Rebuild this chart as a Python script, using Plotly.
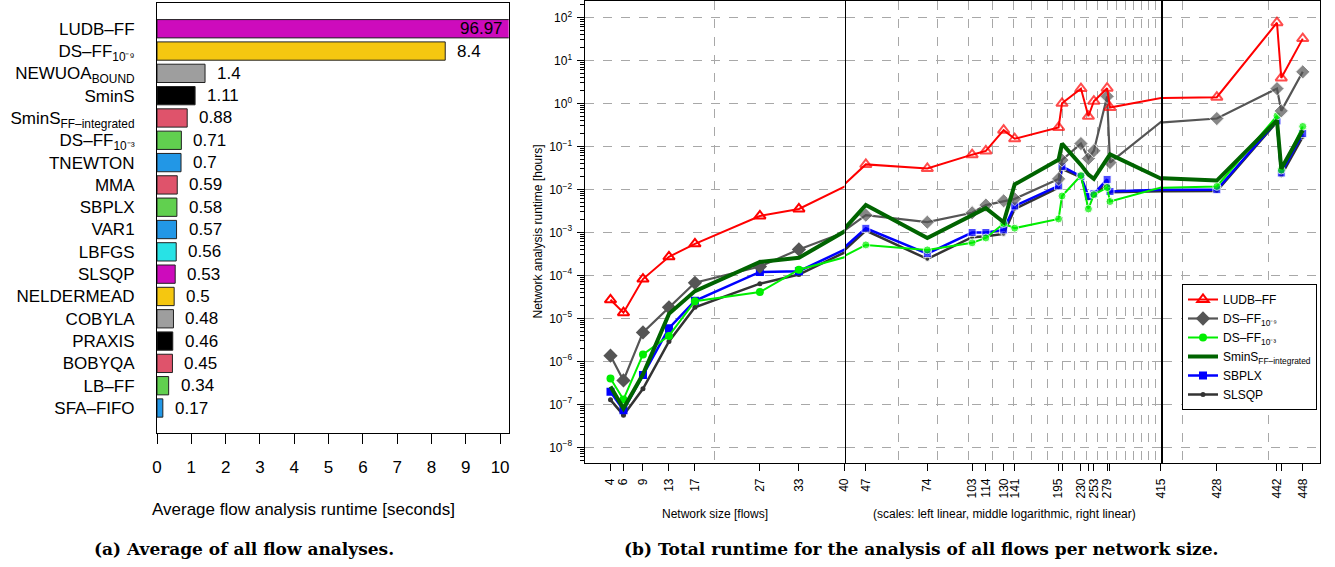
import math
import plotly.graph_objects as go

W, H = 1335, 567


def px(x):
    return x / W


def py(y):
    return 1 - y / H


# ---------------- (a) average flow analysis runtime [seconds] ----------------
methods = ["LUDB–FF", "DS–FF<sub>10⁻⁹</sub>", "NEWUOA<sub>BOUND</sub>", "SminS",
           "SminS<sub>FF–integrated</sub>", "DS–FF<sub>10⁻³</sub>", "TNEWTON", "MMA",
           "SBPLX", "VAR1", "LBFGS", "SLSQP", "NELDERMEAD", "COBYLA", "PRAXIS",
           "BOBYQA", "LB–FF", "SFA–FIFO"]
avg_runtime = [96.97, 8.4, 1.4, 1.11, 0.88, 0.71, 0.7, 0.59, 0.58, 0.57, 0.56,
               0.53, 0.5, 0.48, 0.46, 0.45, 0.34, 0.17]
bar_colors = ["#CD0BBC", "#F5C710", "#9E9E9E", "#000000", "#DF536B", "#61D04F",
              "#2297E6", "#DF536B", "#61D04F", "#2297E6", "#28E2E5", "#CD0BBC",
              "#F5C710", "#9E9E9E", "#000000", "#DF536B", "#61D04F", "#2297E6"]
bar_ticks = [0, 1, 2, 3, 4, 5, 6, 7, 8, 9, 10]

# ---------------- (b) total runtime per network size [hours] ----------------
sizes = [4, 6, 9, 13, 17, 27, 33, 47, 74, 103, 114, 130, 141, 195, 200, 230, 243,
         253, 279, 285, 428, 442, 443, 448]
size_labels = ["4", "6", "9", "13", "17", "27", "33", "47", "74", "103", "114", "130",
               "141", "195", "", "230", "", "253", "279", "", "428", "442", "", "448"]
ludb_ff = [2.7e-5, 1.35e-5, 8.2e-5, 2.7e-4, 5.4e-4, 2.4e-3, 3.5e-3, 3.8e-2, 3.05e-2,
           6.4e-2, 7.8e-2, 0.237, 0.15, 0.275, 1.0, 2.2, 0.5, 1.12, 2.25, 0.8, 1.39,
           75.0, 3.9, 32.0]
ds_ff_9 = [1.35e-6, 3.6e-7, 4.7e-6, 1.8e-5, 6.7e-5, 1.6e-4, 4.0e-4, 2.5e-3, 1.72e-3,
           2.85e-3, 4.3e-3, 5.4e-3, 6.0e-3, 1.75e-2, 4.8e-2, 0.116, 5.2e-2, 7.9e-2,
           1.45, 4.2e-2, 0.443, 2.2, 0.667, 5.4]
ds_ff_3 = [4.0e-7, 1.3e-7, 1.45e-6, 3.9e-6, 2.5e-5, 4.1e-5, 1.35e-4, 5.1e-4, 3.9e-4,
           5.7e-4, 7.4e-4, 1.6e-3, 1.25e-3, 2.05e-3, 7.0e-3, 2.1e-2, 3.5e-3, 7.5e-3,
           1.1e-2, 5.2e-3, 1.17e-2, 0.51, 2.8e-2, 0.29]
smins_ff = [2.6e-7, 8.0e-8, 5.0e-7, 1.27e-5, 4.3e-5, 2.05e-4, 2.55e-4, 4.3e-3, 7.4e-4,
            2.5e-3, 3.65e-3, 1.72e-3, 1.3e-2, 4.9e-2, 0.116, 3.7e-2, 2.2e-2, 1.75e-2,
            4.9e-2, 6.5e-2, 1.6e-2, 0.40, 3.0e-2, 0.237]
sbplx = [1.95e-7, 7.3e-8, 4.8e-7, 5.9e-6, 2.55e-5, 1.2e-4, 1.25e-4, 1.24e-3, 3.2e-4,
         9.9e-4, 9.9e-4, 1.14e-3, 4.1e-3, 1.2e-2, 3.4e-2, 2.0e-2, 6.8e-3, 7.9e-3,
         1.7e-2, 8.9e-3, 9.8e-3, 0.39, 2.4e-2, 0.198]
slsqp = [1.27e-7, 5.6e-8, 2.3e-7, 2.9e-6, 1.8e-5, 6.4e-5, 1.04e-4, 1.1e-3, 2.4e-4,
         7.7e-4, 8.1e-4, 9.2e-4, 3.5e-3, 1.1e-2, 3.0e-2, 1.9e-2, 6.0e-3, 7.2e-3,
         1.4e-2, 8.6e-3, 9.1e-3, 0.37, 2.1e-2, 0.165]
y_decades = [1e-8, 1e-7, 1e-6, 1e-5, 1e-4, 1e-3, 1e-2, 1e-1, 1e0, 1e1, 1e2]
y_decade_labels = ["10<sup>−8</sup>", "10<sup>−7</sup>", "10<sup>−6</sup>",
                   "10<sup>−5</sup>", "10<sup>−4</sup>", "10<sup>−3</sup>",
                   "10<sup>−2</sup>", "10<sup>−1</sup>", "10<sup>0</sup>",
                   "10<sup>1</sup>", "10<sup>2</sup>"]
left_grid = [20]
mid_grid = [60, 80, 100, 120, 140, 160, 180, 200, 220, 240, 260, 280, 300, 320, 340,
            360, 380, 400]
right_grid = [420, 440]

FONT = "Liberation Sans, Arial, sans-serif"
CAPFONT = "DejaVu Serif, serif"
GRID = "#A8A8A8"

fig = go.Figure()

# ---------- bar chart ----------
n = len(methods)
ypos = [n - 1 - i for i in range(n)]
XMAX = 10.25
fig.add_trace(go.Bar(
    x=avg_runtime, y=ypos, orientation="h", width=0.82,
    marker=dict(color=bar_colors, line=dict(color="#222222", width=1)),
    xaxis="x", yaxis="y", showlegend=False, hoverinfo="skip"))

annotations = []
for v, yp in zip(avg_runtime, ypos):
    inside = v > XMAX
    annotations.append(dict(
        x=min(v, XMAX), y=yp, xref="x", yref="y", text=str(v), showarrow=False,
        xanchor="right" if inside else "left", xshift=-4 if inside else 10,
        font=dict(size=17, color="black", family=FONT)))

# ---------- runtime lines ----------
series = [
    ("SLSQP", slsqp, dict(color="#333333", width=2.5), dict(symbol="circle", size=5, color="#333333"), 6),
    ("SBPLX", sbplx, dict(color="#0000FF", width=2.5), dict(symbol="square", size=8, color="#0000FF"), 5),
    ("DS–FF<sub>10⁻³</sub>", ds_ff_3, dict(color="#00EE00", width=2), dict(symbol="circle", size=8, color="#00EE00"), 3),
    ("DS–FF<sub>10⁻⁹</sub>", ds_ff_9, dict(color="#555555", width=2.2), dict(symbol="diamond", size=11, color="#555555"), 2),
    ("SminS<sub>FF–integrated</sub>", smins_ff, dict(color="#006400", width=4), None, 4),
    ("LUDB–FF", ludb_ff, dict(color="#FF0000", width=2), dict(symbol="triangle-up-open", size=10, color="#FF0000", line=dict(width=2, color="#FF0000")), 1),
]
panels = [("x2", "y2", 0, 40), ("x3", "y3", 40, 415), ("x4", "y4", 415, 452)]

for name, vals, line, marker, rank in series:
    for k, (xa, ya, lo, hi) in enumerate(panels):
        if marker is None:
            mode = "lines"
            mk = None
        else:
            mode = "lines+markers"
            mk = dict(marker)
            if k > 0:
                mk["size"] = [marker["size"] if lo <= s <= hi else 0 for s in sizes]
        fig.add_trace(go.Scatter(
            x=sizes, y=vals, mode=mode, name=name, line=line, marker=mk,
            xaxis=xa, yaxis=ya, showlegend=(k == 0), legendrank=rank,
            hoverinfo="skip"))

left_vals = [s for s in sizes if s <= 40] + [40]
left_text = [l for s, l in zip(sizes, size_labels) if s <= 40] + ["40"]
mid_vals = [s for s in sizes if 40 < s <= 415] + [415]
mid_text = [l for s, l in zip(sizes, size_labels) if 40 < s <= 415] + ["415"]
right_vals = [s for s in sizes if s > 415]
right_text = [l for s, l in zip(sizes, size_labels) if s > 415]

xcommon = dict(showline=True, mirror=True, linecolor="black", linewidth=1,
               ticks="outside", ticklen=7, tickcolor="black", tickangle=-90,
               tickfont=dict(size=12, family=FONT, color="black"),
               showgrid=False, zeroline=False, ticklabelstandoff=3,
               automargin=False)
ycommon = dict(type="log", range=[-8.358, 2.38], domain=[py(462.7), py(1)],
               tickmode="array", tickvals=y_decades, showgrid=True, gridcolor=GRID,
               griddash="dash", gridwidth=1, showline=True, mirror=True,
               linecolor="black", linewidth=1, zeroline=False, automargin=False)

fig.update_layout(
    width=W, height=H, margin=dict(l=0, r=0, t=0, b=0),
    paper_bgcolor="white", plot_bgcolor="white",
    font=dict(family=FONT, color="black"),
    xaxis=dict(domain=[px(157), px(508.7)], range=[0, XMAX], anchor="y",
               tickmode="array", tickvals=bar_ticks, ticks="outside", ticklen=10,
               tickcolor="black", showline=True, mirror=True, linecolor="black",
               showgrid=False, zeroline=False, ticklabelstandoff=9,
               automargin=False,
               tickfont=dict(size=17, family=FONT, color="black")),
    yaxis=dict(domain=[py(433), py(3.3)], range=[-1.12, 18.14], anchor="x",
               tickmode="array", tickvals=ypos, ticktext=methods, ticks="",
               showline=True, mirror=True, linecolor="black", showgrid=False,
               zeroline=False, ticklabelstandoff=18, automargin=False,
               tickfont=dict(size=17, family=FONT, color="black")),
    xaxis2=dict(xcommon, domain=[px(584.5), px(844.5)], range=[0, 40.02], anchor="y2",
                tickmode="array", tickvals=left_vals, ticktext=left_text,
                minor=dict(tickmode="array", tickvals=left_grid, showgrid=True,
                           gridcolor=GRID, griddash="dash", ticks="")),
    xaxis3=dict(xcommon, type="log", domain=[px(846), px(1161)],
                range=[math.log10(40.6), math.log10(415.3)], anchor="y3",
                tickmode="array", tickvals=mid_vals, ticktext=mid_text,
                minor=dict(tickmode="array", tickvals=mid_grid, showgrid=True,
                           gridcolor=GRID, griddash="dash", ticks="")),
    xaxis4=dict(xcommon, domain=[px(1163), px(1319.5)], range=[415.47, 451.9],
                anchor="y4", tickmode="array", tickvals=right_vals,
                ticktext=right_text,
                minor=dict(tickmode="array", tickvals=right_grid, showgrid=True,
                           gridcolor=GRID, griddash="dash", ticks="")),
    yaxis2=dict(ycommon, anchor="x2", ticktext=y_decade_labels, ticks="outside",
                ticklen=7, tickcolor="black", ticklabelstandoff=2,
                tickfont=dict(size=12, family=FONT, color="black"),
                minor=dict(ticks="outside", ticklen=4, tickcolor="black",
                           dtick="D1", showgrid=False)),
    yaxis3=dict(ycommon, anchor="x3", matches="y2", showticklabels=False, ticks=""),
    yaxis4=dict(ycommon, anchor="x4", matches="y2", showticklabels=False, ticks=""),
    legend=dict(x=px(1182), y=py(284), xanchor="left", yanchor="top",
                bgcolor="white", bordercolor="black", borderwidth=1,
                font=dict(size=12, family=FONT, color="black"),
                tracegroupgap=0, itemwidth=30),
)

annotations += [
    dict(x=px(303), y=py(509), xref="paper", yref="paper", showarrow=False,
         xanchor="center", yanchor="middle",
         text="Average flow analysis runtime [seconds]",
         font=dict(size=17, family=FONT, color="black")),
    dict(x=px(714.5), y=py(514), xref="paper", yref="paper", showarrow=False,
         xanchor="center", yanchor="middle",
         text="Network size [flows]", font=dict(size=12, family=FONT, color="black")),
    dict(x=px(1004), y=py(514), xref="paper", yref="paper", showarrow=False,
         xanchor="center", yanchor="middle",
         text="(scales: left linear, middle logarithmic, right linear)",
         font=dict(size=12, family=FONT, color="black")),
    dict(x=px(537), y=py(231.5), xref="paper", yref="paper", showarrow=False,
         xanchor="center", yanchor="middle",
         text="Network analysis runtime [hours]", textangle=-90,
         font=dict(size=12, family=FONT, color="black")),
    dict(x=px(244), y=py(549), xref="paper", yref="paper", showarrow=False,
         xanchor="center", yanchor="middle",
         text="<b>(a) Average of all flow analyses.</b>",
         font=dict(size=17, family=CAPFONT, color="black")),
    dict(x=px(921), y=py(549), xref="paper", yref="paper", showarrow=False,
         xanchor="center", yanchor="middle",
         text="<b>(b) Total runtime for the analysis of all flows per network size.</b>",
         font=dict(size=17, family=CAPFONT, color="black")),
]
fig.update_layout(annotations=annotations)

fig.write_html("out.html", config={"displayModeBar": False},
               post_script="document.body.style.margin='0';document.body.style.overflow='hidden';")
